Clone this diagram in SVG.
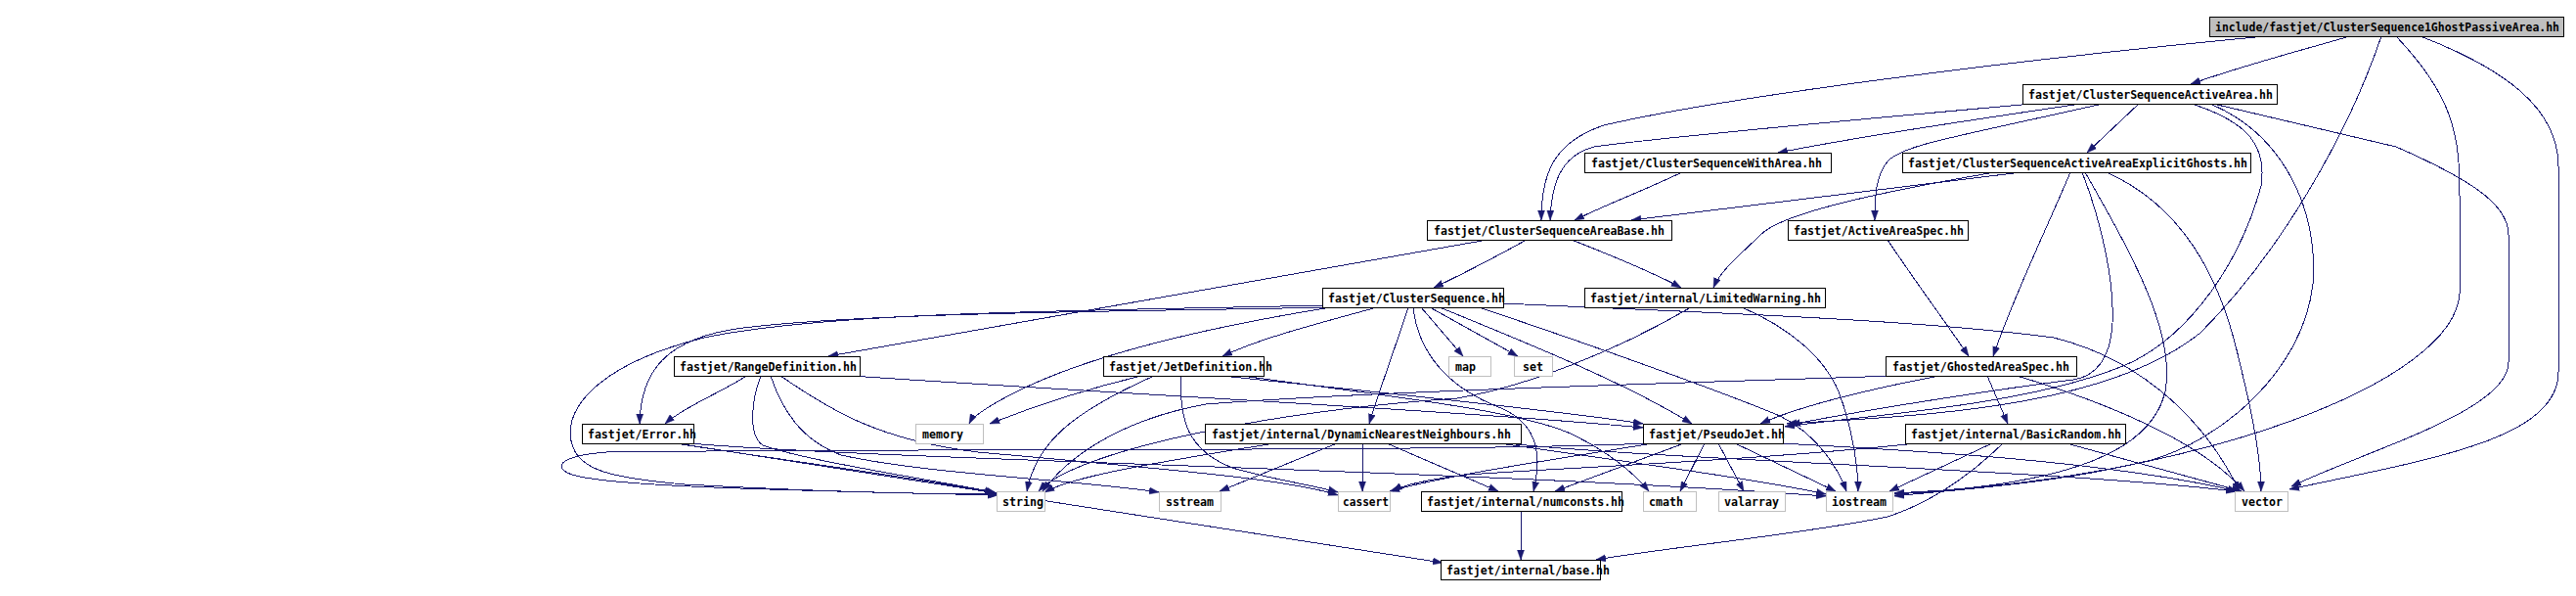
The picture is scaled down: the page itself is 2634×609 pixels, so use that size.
<svg xmlns="http://www.w3.org/2000/svg" width="2634" height="609" viewBox="0 0 2634 609">
<style>
.n rect{fill:#fff;stroke:#000;stroke-width:1}
.s rect{fill:#fff;stroke:#bfbfbf;stroke-width:1}
#root rect{fill:#bfbfbf;stroke:#000}
text{font-family:"DejaVu Sans Mono","Liberation Mono",monospace;font-weight:bold;font-size:12.5px;fill:#000}
#edges path{fill:none;stroke:#191970;stroke-width:1;marker-end:url(#arr);shape-rendering:crispEdges}
</style>
<defs>
<marker id="arr" markerUnits="userSpaceOnUse" viewBox="0 0 10 8" refX="10" refY="4" markerWidth="10" markerHeight="8" orient="auto">
<path d="M0,0.5 L10,4 L0,7.5 z" fill="#191970" stroke="#191970" stroke-width="0.5"/>
</marker>
</defs>
<rect width="2634" height="609" fill="#fff"/>
<g id="edges">
<path d="M2317,37 C2050,62 1760,100 1640,128 C1590,145 1576,175 1576,225"/>
<path d="M2403,37 C2340,55 2290,68 2240,86"/>
<path d="M2435,37 C2400,140 2330,260 2250,340 C2150,420 1950,425 1827,433"/>
<path d="M2450,37 C2510,100 2515,140 2515,200 L2515,300 C2510,390 2250,490 1937,504"/>
<path d="M2475,37 C2560,70 2616,110 2616,170 L2616,380 C2616,450 2480,470 2341,500"/>
<path d="M2078,106 C1900,122 1700,140 1630,150 C1592,160 1586,195 1585,225"/>
<path d="M2128,106 C2000,125 1900,140 1818,156"/>
<path d="M2150,106 C2000,140 1945,148 1930,165 C1918,180 1917,200 1917,225"/>
<path d="M2187,106 L2134,156"/>
<path d="M2241,106 C2300,125 2318,150 2312,190 C2290,270 2240,340 2180,370 C2080,415 1900,425 1825,436"/>
<path d="M2260,106 C2340,140 2370,220 2365,290 C2355,380 2270,450 2200,470 C2100,495 2000,500 1937,507"/>
<path d="M2263,106 L2450,150 C2530,185 2565,210 2565,240 L2565,370 C2565,420 2420,460 2343,497"/>
<path d="M1720,176 C1680,195 1640,210 1610,225"/>
<path d="M2067,176 L1668,225"/>
<path d="M2040,176 C1900,200 1820,220 1800,240 C1780,260 1760,275 1752,294"/>
<path d="M2117,176 C2090,240 2060,300 2038,364"/>
<path d="M2129,176 C2150,230 2162,290 2160,330 C2158,370 2140,385 2120,388 C2040,398 1900,420 1831,434"/>
<path d="M2132,176 C2180,260 2225,340 2214,400 C2200,460 2120,495 1937,505"/>
<path d="M2154,176 C2230,210 2270,280 2290,370 C2305,430 2312,470 2312,502"/>
<path d="M1561,245 C1530,262 1500,278 1466,294"/>
<path d="M1607,245 C1650,262 1690,278 1719,294"/>
<path d="M1521,245 L847,364"/>
<path d="M1930,245 C1960,290 1990,330 2013,364"/>
<path d="M1781,314 C1830,335 1865,365 1880,400 C1895,440 1900,480 1900,502"/>
<path d="M1729,314 C1650,360 1560,395 1490,407 C1300,420 1100,460 1062,502"/>
<path d="M1408,314 C1350,330 1290,345 1250,364"/>
<path d="M1440,314 C1425,360 1410,400 1400,433"/>
<path d="M1453,314 L1496,364"/>
<path d="M1462,314 L1552,364"/>
<path d="M1472,314 C1560,350 1660,390 1730,433"/>
<path d="M1512,314 C1620,350 1760,400 1820,425 C1860,445 1880,480 1888,502"/>
<path d="M1537,310 C1700,318 1950,325 2100,345 C2200,370 2260,440 2290,502"/>
<path d="M1360,314 C1200,318 900,318 760,335 C680,345 655,380 654,433"/>
<path d="M1361,314 C1200,340 1100,370 1040,400 C1010,415 995,425 991,433"/>
<path d="M1355,312 C1100,318 850,318 720,345 C620,370 583,410 583,443 C585,480 620,488 700,495 C850,503 950,505 1022,505"/>
<path d="M1445,314 C1450,360 1480,395 1530,415 C1570,430 1578,460 1568,502"/>
<path d="M1167,384 C1100,400 1050,418 1012,433"/>
<path d="M1180,384 C1100,420 1060,450 1050,502"/>
<path d="M1208,384 C1205,430 1215,460 1260,478 C1300,490 1340,495 1368,503"/>
<path d="M1250,384 C1400,400 1600,420 1680,433"/>
<path d="M1270,384 C1420,405 1560,420 1610,445 C1650,465 1672,485 1686,502"/>
<path d="M763,384 C740,400 700,415 680,433"/>
<path d="M778,384 C768,410 765,445 780,455 C820,470 950,490 1017,503"/>
<path d="M788,384 C800,420 820,450 860,465 C950,485 1100,490 1185,503"/>
<path d="M798,384 C850,420 900,450 1000,462 C1200,480 1320,490 1368,506"/>
<path d="M870,384 C1100,400 1500,420 1680,437"/>
<path d="M692,453 L1475,575"/>
<path d="M690,453 C800,470 950,490 1019,504"/>
<path d="M705,453 C900,470 1500,480 1867,507"/>
<path d="M1303,453 C1200,470 1100,485 1068,503"/>
<path d="M1367,453 L1247,502"/>
<path d="M1393,453 L1393,502"/>
<path d="M1418,453 L1532,502"/>
<path d="M1533,453 C1650,470 1800,490 1867,505"/>
<path d="M1540,453 C1700,470 2100,480 2286,502"/>
<path d="M1722,453 L1590,502"/>
<path d="M1743,453 L1718,502"/>
<path d="M1757,453 L1783,502"/>
<path d="M1774,453 L1877,502"/>
<path d="M1690,453 C1600,468 1480,485 1421,502"/>
<path d="M1820,453 C1950,460 2150,470 2288,502"/>
<path d="M1686,453 C1500,462 900,458 620,462 C570,466 565,478 585,485 C620,496 750,500 1020,506"/>
<path d="M1960,453 C1800,470 1600,478 1500,485 C1460,490 1435,495 1424,502"/>
<path d="M2037,453 L1932,502"/>
<path d="M2048,453 C2010,490 1970,515 1930,528 C1850,545 1700,560 1632,572"/>
<path d="M2113,453 L2292,502"/>
<path d="M1983,384 C1900,400 1840,415 1800,433"/>
<path d="M2032,384 L2053,433"/>
<path d="M2062,384 C2150,410 2250,450 2295,502"/>
<path d="M1938,384 C1700,392 1400,400 1233,413 C1140,430 1090,470 1066,502"/>
<path d="M1555,522 L1555,572"/>
</g>
<g id="root"><rect x="2259.5" y="17.5" width="362" height="20"/><text x="2265" y="32" textLength="352" lengthAdjust="spacingAndGlyphs">include/fastjet/ClusterSequence1GhostPassiveArea.hh</text></g>
<g id="n_activearea" class="n"><rect x="2068.5" y="86.5" width="260" height="20"/><text x="2074" y="101" textLength="250" lengthAdjust="spacingAndGlyphs">fastjet/ClusterSequenceActiveArea.hh</text></g>
<g id="n_witharea" class="n"><rect x="1620.5" y="156.5" width="252" height="20"/><text x="1627" y="171" textLength="236" lengthAdjust="spacingAndGlyphs">fastjet/ClusterSequenceWithArea.hh</text></g>
<g id="n_explicitghosts" class="n"><rect x="1945.5" y="156.5" width="356" height="20"/><text x="1951" y="171" textLength="347" lengthAdjust="spacingAndGlyphs">fastjet/ClusterSequenceActiveAreaExplicitGhosts.hh</text></g>
<g id="n_areabase" class="n"><rect x="1459.5" y="225.5" width="250" height="20"/><text x="1466" y="240" textLength="236" lengthAdjust="spacingAndGlyphs">fastjet/ClusterSequenceAreaBase.hh</text></g>
<g id="n_activeareaspec" class="n"><rect x="1828.5" y="225.5" width="184" height="20"/><text x="1834" y="240" textLength="174" lengthAdjust="spacingAndGlyphs">fastjet/ActiveAreaSpec.hh</text></g>
<g id="n_clustersequence" class="n"><rect x="1352.5" y="294.5" width="185" height="20"/><text x="1358" y="309" textLength="181" lengthAdjust="spacingAndGlyphs">fastjet/ClusterSequence.hh</text></g>
<g id="n_limitedwarning" class="n"><rect x="1620.5" y="294.5" width="246" height="20"/><text x="1626" y="309" textLength="236" lengthAdjust="spacingAndGlyphs">fastjet/internal/LimitedWarning.hh</text></g>
<g id="n_rangedefinition" class="n"><rect x="689.5" y="364.5" width="190" height="20"/><text x="695" y="379" textLength="181" lengthAdjust="spacingAndGlyphs">fastjet/RangeDefinition.hh</text></g>
<g id="n_jetdefinition" class="n"><rect x="1128.5" y="364.5" width="164" height="20"/><text x="1134" y="379" textLength="167" lengthAdjust="spacingAndGlyphs">fastjet/JetDefinition.hh</text></g>
<g id="n_map" class="s"><rect x="1481.5" y="364.5" width="43" height="20"/><text x="1488" y="379" textLength="21" lengthAdjust="spacingAndGlyphs">map</text></g>
<g id="n_set" class="s"><rect x="1548.5" y="364.5" width="39" height="20"/><text x="1557" y="379" textLength="21" lengthAdjust="spacingAndGlyphs">set</text></g>
<g id="n_ghostedareaspec" class="n"><rect x="1928.5" y="364.5" width="195" height="20"/><text x="1935" y="379" textLength="181" lengthAdjust="spacingAndGlyphs">fastjet/GhostedAreaSpec.hh</text></g>
<g id="n_error" class="n"><rect x="595.5" y="433.5" width="114" height="20"/><text x="601" y="448" textLength="111" lengthAdjust="spacingAndGlyphs">fastjet/Error.hh</text></g>
<g id="n_memory" class="s"><rect x="936.5" y="433.5" width="69" height="20"/><text x="943" y="448" textLength="42" lengthAdjust="spacingAndGlyphs">memory</text></g>
<g id="n_dnn" class="n"><rect x="1232.5" y="433.5" width="323" height="20"/><text x="1239" y="448" textLength="306" lengthAdjust="spacingAndGlyphs">fastjet/internal/DynamicNearestNeighbours.hh</text></g>
<g id="n_pseudojet" class="n"><rect x="1680.5" y="433.5" width="143" height="20"/><text x="1686" y="448" textLength="139" lengthAdjust="spacingAndGlyphs">fastjet/PseudoJet.hh</text></g>
<g id="n_basicrandom" class="n"><rect x="1948.5" y="433.5" width="225" height="20"/><text x="1954" y="448" textLength="215" lengthAdjust="spacingAndGlyphs">fastjet/internal/BasicRandom.hh</text></g>
<g id="n_string" class="s"><rect x="1019.5" y="502.5" width="49" height="20"/><text x="1025" y="517" textLength="42" lengthAdjust="spacingAndGlyphs">string</text></g>
<g id="n_sstream" class="s"><rect x="1185.5" y="502.5" width="63" height="20"/><text x="1192" y="517" textLength="49" lengthAdjust="spacingAndGlyphs">sstream</text></g>
<g id="n_cassert" class="s"><rect x="1368.5" y="502.5" width="53" height="20"/><text x="1373" y="517" textLength="47" lengthAdjust="spacingAndGlyphs">cassert</text></g>
<g id="n_numconsts" class="n"><rect x="1453.5" y="502.5" width="205" height="20"/><text x="1459" y="517" textLength="202" lengthAdjust="spacingAndGlyphs">fastjet/internal/numconsts.hh</text></g>
<g id="n_cmath" class="s"><rect x="1680.5" y="502.5" width="54" height="20"/><text x="1686" y="517" textLength="35" lengthAdjust="spacingAndGlyphs">cmath</text></g>
<g id="n_valarray" class="s"><rect x="1757.5" y="502.5" width="68" height="20"/><text x="1763" y="517" textLength="56" lengthAdjust="spacingAndGlyphs">valarray</text></g>
<g id="n_iostream" class="s"><rect x="1867.5" y="502.5" width="68" height="20"/><text x="1873" y="517" textLength="56" lengthAdjust="spacingAndGlyphs">iostream</text></g>
<g id="n_vector" class="s"><rect x="2285.5" y="502.5" width="54" height="20"/><text x="2292" y="517" textLength="42" lengthAdjust="spacingAndGlyphs">vector</text></g>
<g id="n_base" class="n"><rect x="1473.5" y="572.5" width="163" height="20"/><text x="1479" y="587" textLength="167" lengthAdjust="spacingAndGlyphs">fastjet/internal/base.hh</text></g>
</svg>
